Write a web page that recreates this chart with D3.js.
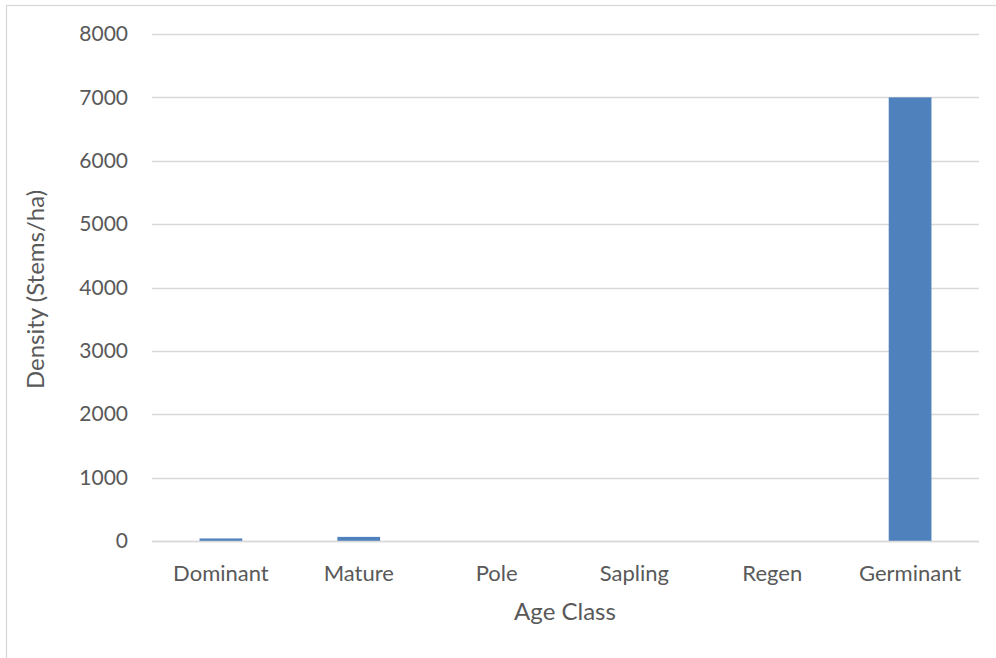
<!DOCTYPE html>
<html>
<head>
<meta charset="utf-8">
<script src="https://cdn.jsdelivr.net/npm/d3@7"></script>
<style>
  html, body { margin: 0; padding: 0; background: #fff; }
  svg { display: block; }
  text { font-family: Lato, "Open Sans", sans-serif; fill: #595959; }
</style>
</head>
<body>
<svg id="chart" width="996" height="658"></svg>
<script>
// Stem density by age class
const categories = ["Dominant", "Mature", "Pole", "Sapling", "Regen", "Germinant"];
const densities = [40, 65, 0, 0, 0, 7000];
const yTicks = [0, 1000, 2000, 3000, 4000, 5000, 6000, 7000, 8000];
const xTitle = "Age Class";
const yTitle = "Density (Stems/ha)";

const svg = d3.select("#chart");
const W = 996, H = 658;
const plot = { left: 152, right: 979, top: 34, bottom: 541 };

// outer chart border
svg.append("rect")
  .attr("x", 6.5).attr("y", 5.5)
  .attr("width", W + 10).attr("height", H + 10)
  .attr("fill", "none").attr("stroke", "#d9d9d9").attr("stroke-width", 1.3);

const x = d3.scaleBand().domain(categories)
  .range([plot.left, plot.right]).paddingInner(0.69).paddingOuter(0.345);
const y = d3.scaleLinear().domain([0, 8000]).range([plot.bottom, plot.top]);

// gridlines
svg.append("g").selectAll("line").data(yTicks).join("line")
  .attr("x1", plot.left).attr("x2", plot.right)
  .attr("y1", d => Math.round(y(d)) + 0.5).attr("y2", d => Math.round(y(d)) + 0.5)
  .attr("stroke", "#d9d9d9").attr("stroke-width", 1.3);

// bars
svg.append("g").selectAll("rect").data(categories.map((c, i) => ({ c, v: densities[i] })))
  .join("rect")
  .attr("x", d => x(d.c)).attr("width", x.bandwidth())
  .attr("y", d => y(d.v)).attr("height", d => y(0) - y(d.v))
  .attr("fill", "#4f81bd");

// baseline axis
svg.append("line")
  .attr("x1", plot.left).attr("x2", plot.right)
  .attr("y1", y(0) + 0.5).attr("y2", y(0) + 0.5)
  .attr("stroke", "#d9d9d9").attr("stroke-width", 1.5);

// y tick labels
const yAxis = d3.axisLeft(y).tickValues(yTicks).tickSize(0).tickPadding(0).tickFormat(d3.format("d"));
const gy = svg.append("g").attr("transform", `translate(128,0)`).call(yAxis);
gy.select(".domain").remove();
gy.selectAll("text").attr("font-size", 21).attr("font-family", "Lato, sans-serif").attr("fill", "#595959");

// x tick labels
const xAxis = d3.axisBottom(x).tickSize(0).tickPadding(0);
const gx = svg.append("g").attr("transform", `translate(0,${plot.bottom + 24})`).call(xAxis);
gx.select(".domain").remove();
gx.selectAll("text").attr("font-size", 22).attr("font-family", "Lato, sans-serif").attr("fill", "#595959");

// axis titles
svg.append("text").attr("x", 565).attr("y", 620)
  .attr("text-anchor", "middle").attr("font-size", 24).text(xTitle);
svg.append("text")
  .attr("transform", `translate(44,${(plot.top + plot.bottom) / 2 + 2}) rotate(-90)`)
  .attr("text-anchor", "middle").attr("font-size", 24).text(yTitle);
</script>
</body>
</html>
